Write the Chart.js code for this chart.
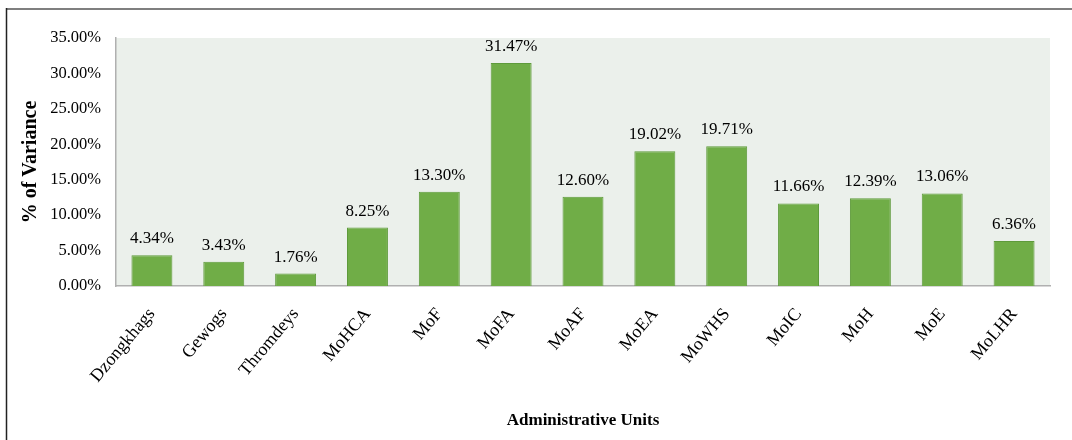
<!DOCTYPE html>
<html>
<head>
<meta charset="utf-8">
<script src="https://cdn.jsdelivr.net/npm/chart.js@4/dist/chart.umd.min.js"></script>
<style>
  html, body { margin: 0; padding: 0; background: #ffffff; }
  #wrap { width: 1072px; height: 440px; position: relative; }
</style>
</head>
<body>
<div id="wrap"><canvas id="c" width="1072" height="440"></canvas></div>
<script>
const categories = ["Dzongkhags", "Gewogs", "Thromdeys", "MoHCA", "MoF", "MoFA", "MoAF", "MoEA", "MoWHS", "MoIC", "MoH", "MoE", "MoLHR"];
const variancePct = [4.34, 3.43, 1.76, 8.25, 13.30, 31.47, 12.60, 19.02, 19.71, 11.66, 12.39, 13.06, 6.36];
const yTickMax = 35;
const yTickStep = 5;
const yTitle = "% of Variance";
const xTitle = "Administrative Units";

const serif = "'Liberation Serif', 'Times New Roman', serif";

const decorPlugin = {
  id: 'decor',
  beforeDraw(chart) {
    const { ctx, chartArea: a } = chart;
    ctx.save();
    ctx.fillStyle = '#ebf0eb';
    ctx.fillRect(a.left, a.top, a.right - a.left, a.bottom - a.top);
    // outer frame lines
    ctx.strokeStyle = '#7f7f7f';
    ctx.lineWidth = 2;
    ctx.beginPath();
    ctx.moveTo(6, 9);
    ctx.lineTo(1072, 9);
    ctx.stroke();
    ctx.strokeStyle = '#222222';
    ctx.lineWidth = 1.5;
    ctx.beginPath();
    ctx.moveTo(6.5, 8);
    ctx.lineTo(6.5, 440);
    ctx.stroke();
    ctx.restore();
  },
  afterDatasetsDraw(chart) {
    const { ctx } = chart;
    const meta = chart.getDatasetMeta(0);
    ctx.save();
    ctx.font = "17px " + serif;
    ctx.fillStyle = '#000000';
    ctx.textAlign = 'center';
    ctx.textBaseline = 'alphabetic';
    meta.data.forEach((bar, i) => {
      const v = chart.data.datasets[0].data[i];
      ctx.fillText(v.toFixed(2) + '%', bar.x, bar.y - 12);
    });
    ctx.restore();
  }
};

new Chart(document.getElementById('c'), {
  type: 'bar',
  data: {
    labels: categories,
    datasets: [{
      data: variancePct,
      backgroundColor: '#70ad47',
      borderColor: '#5e9a3b',
      borderWidth: 1,
      categoryPercentage: 1,
      barPercentage: 0.57
    }]
  },
  options: {
    responsive: false,
    animation: false,
    devicePixelRatio: 1,
    layout: { padding: { left: 0, right: 22, top: 38, bottom: 0 } },
    plugins: {
      legend: { display: false },
      tooltip: { enabled: false }
    },
    scales: {
      x: {
        afterFit(scale) { scale.height = 154; },
        grid: { display: false, drawTicks: false },
        border: { display: true, color: '#b0b0b0', width: 1.5 },
        ticks: {
          color: '#000000',
          font: { family: serif, size: 18 },
          maxRotation: 50,
          minRotation: 50,
          padding: 18,
          autoSkip: false
        },
        title: {
          display: true,
          text: xTitle,
          color: '#000000',
          font: { family: serif, size: 17, weight: 'bold' },
          padding: { top: 0, bottom: 9 }
        }
      },
      y: {
        min: 0,
        max: yTickMax,
        afterFit(scale) { scale.width = 116; },
        grid: { display: false, drawTicks: false },
        border: { display: true, color: '#b0b0b0', width: 1.5 },
        ticks: {
          stepSize: yTickStep,
          color: '#000000',
          font: { family: serif, size: 16.5 },
          padding: 15,
          callback: v => Number(v).toFixed(2) + '%'
        },
        title: {
          display: true,
          text: yTitle,
          color: '#000000',
          font: { family: serif, size: 20, weight: 'bold' },
          padding: { top: 19, bottom: 0 }
        }
      }
    }
  },
  plugins: [decorPlugin]
});
</script>
</body>
</html>
